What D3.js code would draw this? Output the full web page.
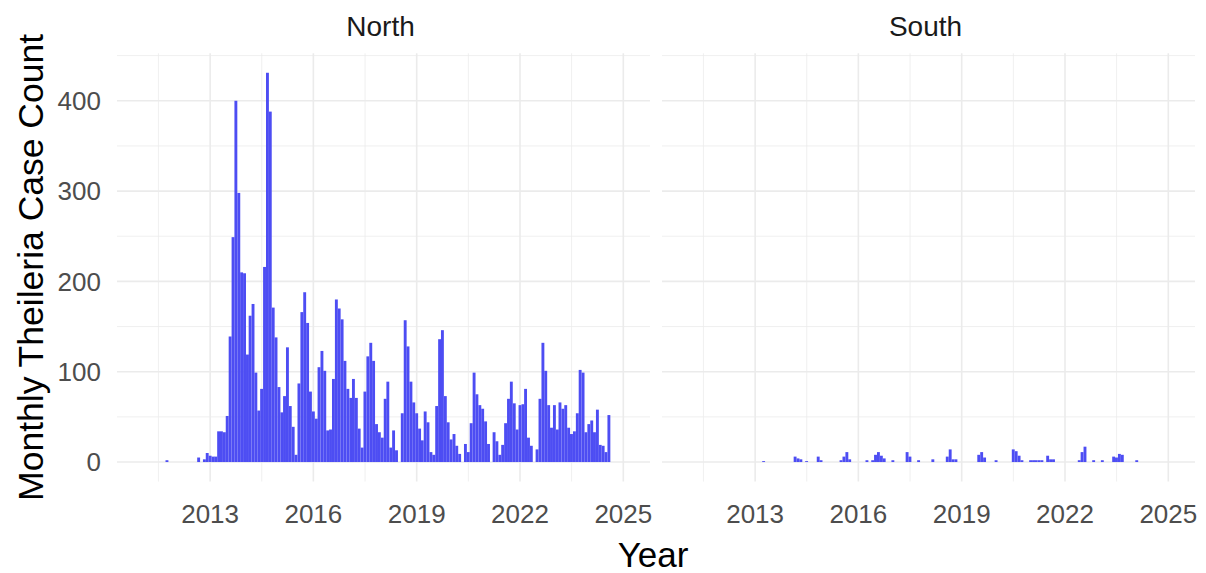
<!DOCTYPE html>
<html>
<head>
<meta charset="utf-8">
<script src="https://cdn.jsdelivr.net/npm/d3@7"></script>
<style>
  html, body { margin: 0; padding: 0; background: #ffffff; }
  svg { display: block; }
  text { font-family: "Liberation Sans", Arial, sans-serif; }
</style>
</head>
<body>
<svg id="chart" width="1206" height="573"></svg>
<script>
// ---------------- DATA ----------------
const panels = ["North", "South"];

// Monthly case counts, North, starting October 2011
const northStart = "2011-10";
const northCounts = [
  2, 0, 0, 0, 0, 0, 0, 0, 0, 0, 0, 5, 0, 3, 10,          // 2011-10 .. 2012-12
  7, 6, 6, 34, 34, 33, 51, 139, 249, 400, 298, 210,       // 2013
  209, 119, 162, 175, 99, 57, 81, 216, 431, 388, 171, 138, // 2014
  83, 55, 73, 127, 62, 39, 8, 87, 166, 188, 154, 78,      // 2015
  56, 48, 105, 123, 101, 35, 36, 92, 180, 170, 158, 112,  // 2016
  81, 71, 92, 71, 37, 16, 78, 117, 132, 112, 42, 33,      // 2017
  27, 70, 89, 16, 35, 13, 0, 54, 157, 128, 89, 66,        // 2018
  54, 37, 24, 56, 44, 11, 8, 62, 136, 146, 73, 44,        // 2019
  25, 31, 18, 9, 0, 20, 11, 43, 99, 75, 63, 59,           // 2020
  45, 20, 0, 33, 23, 8, 19, 43, 70, 89, 65, 36,           // 2021
  63, 64, 81, 27, 18, 0, 14, 70, 132, 101, 63, 38,        // 2022
  63, 36, 66, 59, 63, 38, 31, 34, 54, 102, 99, 33,        // 2023
  42, 46, 33, 58, 19, 18, 11, 52                          // 2024-01 .. 2024-08
];

// Monthly case counts, South, starting April 2013
const southStart = "2013-04";
const southCounts = [
  1, 0, 0, 0, 0, 0, 0, 0, 0,                 // 2013-04 .. 2013-12
  0, 0, 6, 4, 3, 0, 1, 0, 0, 0, 6, 2,        // 2014
  0, 0, 0, 0, 0, 0, 2, 6, 11, 3, 0, 0,       // 2015
  0, 0, 0, 2, 0, 2, 8, 11, 7, 4, 0, 0,       // 2016
  2, 0, 0, 0, 0, 11, 6, 0, 0, 2, 0, 0,       // 2017
  0, 0, 3, 0, 0, 0, 0, 6, 14, 3, 3, 0,       // 2018
  0, 0, 0, 0, 0, 0, 8, 11, 5, 0, 0, 0,       // 2019
  2, 0, 0, 0, 0, 0, 14, 12, 7, 2, 0, 0,      // 2020
  2, 2, 2, 2, 2, 0, 7, 3, 3, 0, 0, 0,        // 2021
  0, 0, 0, 0, 0, 2, 11, 17, 0, 0, 2, 0,      // 2022
  0, 2, 0, 0, 0, 6, 5, 9, 8, 0, 0, 0,        // 2023
  0, 2                                       // 2024-01 .. 2024-02
];

const yTicks = [0, 100, 200, 300, 400];
const yMinor = [50, 150, 250, 350, 450];
const xTickYears = [2013, 2016, 2019, 2022, 2025];
const xMinorYears = [2011.5, 2014.5, 2017.5, 2020.5, 2023.5];
const yTitle = "Monthly Theileria Case Count";
const xTitle = "Year";

// ---------------- HELPERS ----------------
const parseMonth = d3.timeParse("%Y-%m");
function toSeries(start, counts) {
  const s = parseMonth(start);
  return counts.map((v, i) => ({ date: d3.timeMonth.offset(s, i), value: v }));
}
function yearFrac(y) {
  const yi = Math.floor(y);
  const a = new Date(yi, 0, 1), b = new Date(yi + 1, 0, 1);
  return new Date(+a + (y - yi) * (b - a));
}
const seriesByPanel = {
  North: toSeries(northStart, northCounts),
  South: toSeries(southStart, southCounts)
};

// ---------------- LAYOUT ----------------
const svg = d3.select("#chart");
svg.append("rect").attr("width", 1206).attr("height", 573).attr("fill", "#ffffff");

const panelLeft = { North: 117, South: 662 };
const panelWidth = 533;
const panelTop = 53.3, panelBottom = 481.5;

const y = d3.scaleLinear().domain([-21.55, 452.55]).range([panelBottom, panelTop]);
const xDomain = [new Date(2010, 3, 19), new Date(2025, 9, 11)];

const gridColor = "#ebebeb";
const barColor = "#4d4df3";
const halfBarDays = 15.3;

panels.forEach(p => {
  const x = d3.scaleTime().domain(xDomain).range([panelLeft[p], panelLeft[p] + panelWidth]);
  const g = svg.append("g");

  // minor grid
  g.selectAll(".ymin").data(yMinor).join("line")
    .attr("x1", panelLeft[p]).attr("x2", panelLeft[p] + panelWidth)
    .attr("y1", d => y(d)).attr("y2", d => y(d))
    .attr("stroke", gridColor).attr("stroke-width", 0.8);
  g.selectAll(".xmin").data(xMinorYears).join("line")
    .attr("x1", d => x(yearFrac(d))).attr("x2", d => x(yearFrac(d)))
    .attr("y1", panelTop).attr("y2", panelBottom)
    .attr("stroke", gridColor).attr("stroke-width", 0.8);
  // major grid
  g.selectAll(".ymaj").data(yTicks).join("line")
    .attr("x1", panelLeft[p]).attr("x2", panelLeft[p] + panelWidth)
    .attr("y1", d => y(d)).attr("y2", d => y(d))
    .attr("stroke", gridColor).attr("stroke-width", 1.6);
  g.selectAll(".xmaj").data(xTickYears).join("line")
    .attr("x1", d => x(yearFrac(d))).attr("x2", d => x(yearFrac(d)))
    .attr("y1", panelTop).attr("y2", panelBottom)
    .attr("stroke", gridColor).attr("stroke-width", 1.6);

  // bars
  g.selectAll(".bar").data(seriesByPanel[p].filter(d => d.value > 0)).join("rect")
    .attr("x", d => x(d3.timeHour.offset(d.date, -halfBarDays * 24)))
    .attr("width", d => x(d3.timeHour.offset(d.date, halfBarDays * 24)) - x(d3.timeHour.offset(d.date, -halfBarDays * 24)))
    .attr("y", d => y(d.value))
    .attr("height", d => y(0) - y(d.value))
    .attr("fill", barColor);

  // x tick labels
  g.selectAll(".xl").data(xTickYears).join("text")
    .attr("x", d => x(yearFrac(d))).attr("y", 523)
    .attr("text-anchor", "middle")
    .attr("font-size", 26).attr("fill", "#4d4d4d")
    .text(d => d);

  // strip title
  g.append("text")
    .attr("x", panelLeft[p] + panelWidth / 2 - 3).attr("y", 36)
    .attr("text-anchor", "middle")
    .attr("font-size", 28).attr("fill", "#1a1a1a")
    .text(p);
});

// y tick labels (left panel only)
svg.selectAll(".yl").data(yTicks).join("text")
  .attr("x", 101).attr("y", d => y(d))
  .attr("dy", "0.36em")
  .attr("text-anchor", "end")
  .attr("font-size", 26).attr("fill", "#4d4d4d")
  .text(d => d);

// axis titles
svg.append("text")
  .attr("transform", `translate(43, ${(panelTop + panelBottom) / 2}) rotate(-90)`)
  .attr("text-anchor", "middle")
  .attr("font-size", 35.5).attr("fill", "#000000")
  .text(yTitle);

svg.append("text")
  .attr("x", (panelLeft.North + panelLeft.South + panelWidth) / 2 - 3).attr("y", 567)
  .attr("text-anchor", "middle")
  .attr("font-size", 35).attr("fill", "#000000")
  .text(xTitle);
</script>
</body>
</html>
